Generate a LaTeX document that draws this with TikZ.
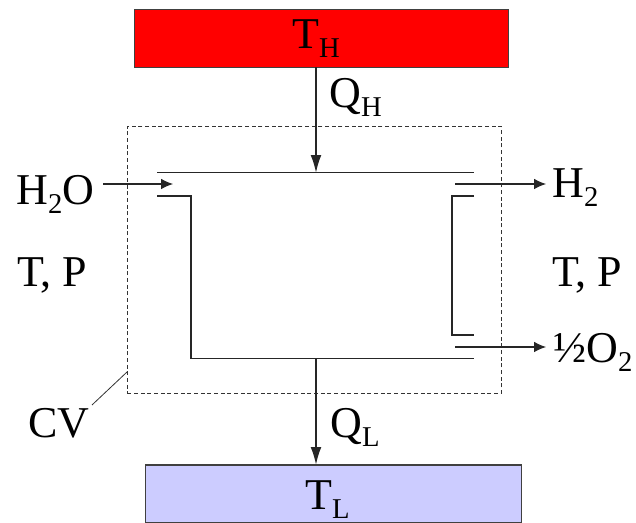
\documentclass[tikz,border=0pt]{standalone}
\usepackage{fontspec}
\setmainfont{Liberation Serif}
\usetikzlibrary{arrows.meta}
\newcommand{\subx}[1]{\raisebox{-6.5pt}{\fontsize{21.5}{22}\selectfont #1}}
\tikzset{
  x=0.75pt,y=-0.75pt,
  lab/.style={inner sep=0pt,anchor=base west,text=black,font=\fontsize{33}{35}\selectfont},
  res/.style={draw=black!75,line width=0.8pt,inner sep=0pt,anchor=north west,minimum height=43.5pt},
  wall/.style={draw=black!85,line width=0.8pt},
  thin line/.style={draw=black!80,line width=0.6pt},
  cvbox/.style={draw=black!80,line width=0.7pt,dash pattern=on 3pt off 2pt,inner sep=0pt,anchor=north west,minimum width=280.5pt,minimum height=200.25pt},
  harrow/.style={draw=black!85,line width=0.8pt,-{Latex[length=9pt,width=8pt]}},
  varrow/.style={draw=black!85,line width=0.8pt,-{Latex[length=13pt,width=8pt]}},
}
\begin{document}
\begin{tikzpicture}
\useasboundingbox (0,0) rectangle (636,523);
% reservoirs
\node[res,fill=red,minimum width=281pt] (hot) at (133.5,9) {};
\node[res,fill=blue!20,minimum width=282pt] (cold) at (145,464.5) {};
% control volume
\node[cvbox] (cv) at (127,126) {};
% device walls
\coordinate (tl) at (157,172.5);
\coordinate (tr) at (474,172.5);
\coordinate (la) at (157,196);
\coordinate (lb) at (191,196);
\coordinate (lc) at (191,358.5);
\coordinate (ld) at (474,358.5);
\coordinate (ra) at (474,196);
\coordinate (rb) at (452,196);
\coordinate (rc) at (452,335);
\coordinate (rd) at (474,335);
\draw[wall] (tl) -- (tr);
\draw[wall] (la) -- (lb) -- (lc) -- (ld);
\draw[wall] (ra) -- (rb) -- (rc) -- (rd);
% heat flows
\coordinate (hin) at (316,172.5);
\coordinate (hs) at (316,67);
\coordinate (lo) at (316,358.5);
\coordinate (le) at (316,464.5);
\draw[varrow] (hs) -- (hin);
\draw[varrow] (lo) -- (le);
% mass flows
\coordinate (w1) at (103,184);
\coordinate (w2) at (173,184);
\coordinate (h1) at (455,184);
\coordinate (h2) at (546,184);
\coordinate (o1) at (455,347);
\coordinate (o2) at (546,347);
\draw[harrow] (w1) -- (w2);
\draw[harrow] (h1) -- (h2);
\draw[harrow] (o1) -- (o2);
% labels
\node[lab] (TH) at (292,49) {T\subx{H}};
\node[lab] (TL) at (305,510) {T\subx{L}};
\node[lab] (QH) at (329,108) {Q\subx{H}};
\node[lab] (QL) at (330,438) {Q\subx{L}};
\node[lab] (water) at (16,205) {H\subx{2}O};
\node[lab] (tpl) at (17,287) {T, P};
\node[lab] (tpr) at (552,287) {T, P};
\node[lab] (hyd) at (552,198) {H\subx{2}};
\node[lab] (oxy) at (553,363) {½O\subx{2}};
\node[lab] (cvl) at (28,438) {CV};
\coordinate (cvt) at (127,372);
\draw[thin line] (92,405) -- (cvt);
\end{tikzpicture}
\end{document}
